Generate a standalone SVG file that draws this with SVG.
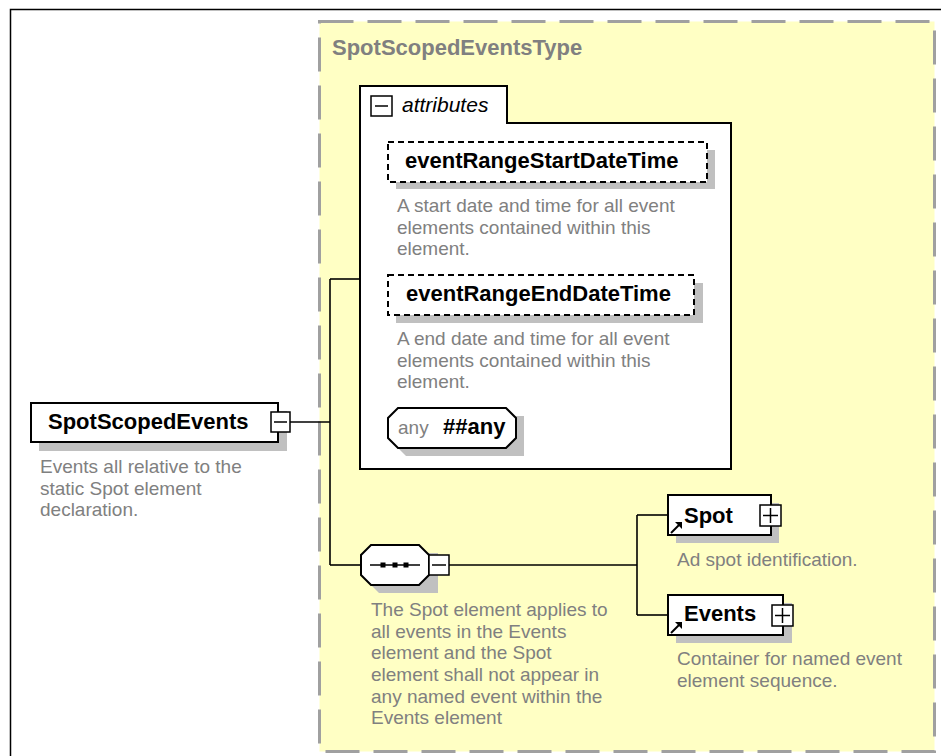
<svg xmlns="http://www.w3.org/2000/svg" width="941" height="756" viewBox="0 0 941 756">
<style>
.desc{font-family:"Liberation Sans",Arial,sans-serif;font-size:19px;fill:#808080}
.bold{font-family:"Liberation Sans",Arial,sans-serif;font-size:22px;font-weight:bold;fill:#000}
.box{fill:#fff;stroke:#000;stroke-width:2}
.dbox{fill:#fff;stroke:#000;stroke-width:2;stroke-dasharray:6 4}
.shadow{fill:#c0c0c0}
.btn{fill:#fff;stroke:#000;stroke-width:1.5}
.conn{fill:none;stroke:#000;stroke-width:1.6}
</style>
<rect x="0" y="0" width="941" height="756" fill="#fff"/>
<rect x="10.5" y="9.5" width="940" height="760" fill="none" stroke="#000" stroke-width="1.5"/>
<g id="SpotScopedEventsType">
<rect x="319.5" y="21.5" width="615" height="730" fill="#ffffc4" stroke="#a0a0a0" stroke-width="3" stroke-dasharray="34 14"/>
<text x="332" y="55" font-family="Liberation Sans,Arial,sans-serif" font-size="22" font-weight="bold" fill="#808080">SpotScopedEventsType</text>
</g>
<g id="attributes">
<path class="box" d="M360,123 V86 H507 V123 H731 V469 H360 Z"/>
<rect class="btn" x="371" y="96" width="21" height="20"/>
<line x1="375" y1="106" x2="388" y2="106" stroke="#000" stroke-width="1.5"/>
<text x="402" y="112" font-family="Liberation Sans,Arial,sans-serif" font-size="21" font-style="italic" fill="#000">attributes</text>
</g>
<g id="eventRangeStartDateTime">
<rect class="shadow" x="396" y="150" width="319" height="39"/>
<rect class="dbox" x="388" y="142" width="319" height="40"/>
<text class="bold" x="405" y="168">eventRangeStartDateTime</text>
<text class="desc" x="397" y="212">A start date and time for all event</text>
<text class="desc" x="397" y="233.7">elements contained within this</text>
<text class="desc" x="397" y="255.3">element.</text>
</g>
<g id="eventRangeEndDateTime">
<rect class="shadow" x="396" y="283" width="307" height="40"/>
<rect class="dbox" x="388" y="275" width="306" height="40"/>
<text class="bold" x="406" y="301">eventRangeEndDateTime</text>
<text class="desc" x="397" y="345">A end date and time for all event</text>
<text class="desc" x="397" y="366.7">elements contained within this</text>
<text class="desc" x="397" y="388.3">element.</text>
</g>
<g id="any">
<polygon class="shadow" points="406,416 524,416 524,456 406,456 396,446 396,426"/>
<polygon class="box" points="398,408 506,408 516,418 516,438 506,448 398,448 388,438 388,418"/>
<text class="desc" x="398" y="434">any</text>
<text class="bold" x="443" y="434">##any</text>
</g>
<g id="SpotScopedEvents">
<rect class="shadow" x="39" y="411" width="248" height="40"/>
<rect class="box" x="31" y="403" width="247" height="39"/>
<text class="bold" x="48" y="429">SpotScopedEvents</text>
<rect class="btn" x="271" y="412" width="19" height="20"/>
<line x1="274" y1="422" x2="287" y2="422" stroke="#000" stroke-width="1.5"/>
<text class="desc" x="40" y="473">Events all relative to the</text>
<text class="desc" x="40" y="494.7">static Spot element</text>
<text class="desc" x="40" y="516.3">declaration.</text>
</g>
<g id="sequence">
<polygon class="shadow" points="379,553 438,553 438,593 379,593 369,583 369,563"/>
<polygon class="box" points="371,545 419,545 429,555 429,575 419,585 371,585 361,575 361,555"/>
<line x1="370" y1="565" x2="420" y2="565" stroke="#000" stroke-width="1.5"/>
<rect x="380.5" y="562.5" width="5" height="5" fill="#000"/>
<rect x="392.5" y="562.5" width="5" height="5" fill="#000"/>
<rect x="403.5" y="562.5" width="5" height="5" fill="#000"/>
<rect class="btn" x="429" y="555" width="20" height="20"/>
<line x1="432" y1="565" x2="446" y2="565" stroke="#000" stroke-width="1.5"/>
<text class="desc" x="371" y="616">The Spot element applies to</text>
<text class="desc" x="371" y="637.7">all events in the Events</text>
<text class="desc" x="371" y="659.3">element and the Spot</text>
<text class="desc" x="371" y="681">element shall not appear in</text>
<text class="desc" x="371" y="702.7">any named event within the</text>
<text class="desc" x="371" y="724.3">Events element</text>
</g>
<g id="Spot">
<rect class="shadow" x="676" y="503" width="103" height="40"/>
<rect class="box" x="668" y="495" width="103" height="40"/>
<path d="M671,533 L679,525" stroke="#000" stroke-width="2"/>
<polygon points="682,522 682,529 675,522" fill="#000"/>
<text class="bold" x="684" y="523">Spot</text>
<rect class="btn" x="760" y="505" width="21" height="21"/>
<line x1="763" y1="515.5" x2="778" y2="515.5" stroke="#000" stroke-width="1.5"/>
<line x1="770.5" y1="508" x2="770.5" y2="523" stroke="#000" stroke-width="1.5"/>
<text class="desc" x="677" y="566">Ad spot identification.</text>
</g>
<g id="Events">
<rect class="shadow" x="676" y="603" width="116" height="40"/>
<rect class="box" x="668" y="595" width="115" height="40"/>
<path d="M671,633 L679,625" stroke="#000" stroke-width="2"/>
<polygon points="682,622 682,629 675,622" fill="#000"/>
<text class="bold" x="684" y="621">Events</text>
<rect class="btn" x="772" y="605" width="21" height="21"/>
<line x1="775" y1="615.5" x2="790" y2="615.5" stroke="#000" stroke-width="1.5"/>
<line x1="782.5" y1="608" x2="782.5" y2="623" stroke="#000" stroke-width="1.5"/>
<text class="desc" x="677" y="665">Container for named event</text>
<text class="desc" x="677" y="686.7">element sequence.</text>
</g>
<g id="connectors">
<path class="conn" d="M290,422 H330"/>
<path class="conn" d="M330,279 V565"/>
<path class="conn" d="M330,279 H360"/>
<path class="conn" d="M330,565 H361"/>
<path class="conn" d="M449,565 H637"/>
<path class="conn" d="M637,515 V615"/>
<path class="conn" d="M637,515 H668"/>
<path class="conn" d="M637,615 H668"/>
</g>
</svg>
